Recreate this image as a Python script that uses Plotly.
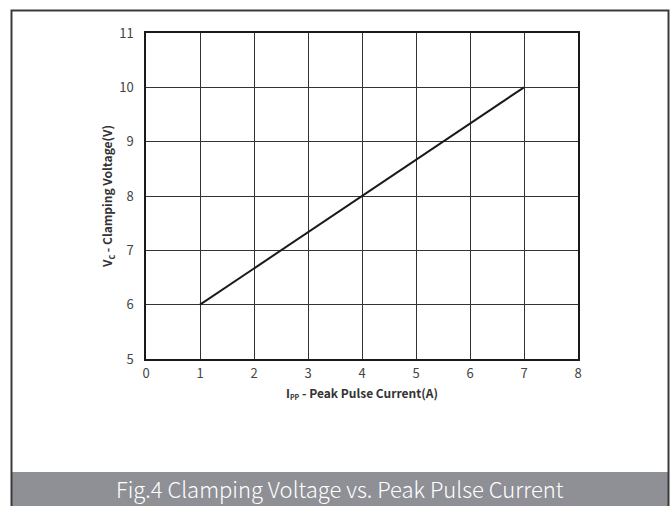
import plotly.graph_objects as go

# Data
ipp_current = [1, 7]
vc_voltage = [6, 10]
x_ticks = [0, 1, 2, 3, 4, 5, 6, 7, 8]
y_ticks = [5, 6, 7, 8, 9, 10, 11]
caption = "Fig.4 Clamping Voltage vs. Peak Pulse Current"

W, H = 672, 506
L, R, T, B = 146, 94, 33, 147
pw, ph = W - L - R, H - T - B

def px(x):
    return (x - L) / pw

def py(y):
    return (H - B - y) / ph

FONT = "Noto Sans CJK SC, Noto Sans, sans-serif"

fig = go.Figure()
fig.add_trace(go.Scatter(x=ipp_current, y=vc_voltage, mode="lines",
                         line=dict(color="#1a1a1a", width=2), showlegend=False,
                         hoverinfo="skip"))

axis_common = dict(showgrid=True, gridcolor="#333333", gridwidth=1,
                   showline=True, linecolor="#1a1a1a", linewidth=1.5, mirror=True,
                   zeroline=False, ticks="", tickfont=dict(family=FONT, size=13, color="#444444"))

fig.update_xaxes(range=[0, 8], tickvals=x_ticks, ticklabelstandoff=2,
                 title=dict(text="I<sub><span style='font-size:7px'>PP</span></sub> - Peak Pulse Current(A)",
                            font=dict(family=FONT, size=12, color="#333333", weight="bold"),
                            standoff=8),
                 **axis_common)
fig.update_yaxes(range=[5, 11], tickvals=y_ticks, ticklabelstandoff=8,
                 title=dict(text="V<sub><span style='font-size:9px'>c</span></sub> - Clamping Voltage(V)",
                            font=dict(family=FONT, size=12, color="#333333", weight="bold"),
                            standoff=4),
                 **axis_common)

shapes = [
    dict(type="rect", xref="paper", yref="paper",
         x0=px(12), x1=px(668), y0=py(472), y1=py(507),
         fillcolor="#8e9096", line=dict(width=0), layer="below"),
    dict(type="rect", xref="paper", yref="paper",
         x0=px(11.5), x1=px(668.5), y0=py(10.5), y1=py(508),
         line=dict(color="#3a3a3a", width=2), fillcolor="rgba(0,0,0,0)"),
]

fig.update_layout(
    width=W, height=H,
    margin=dict(l=L, r=R, t=T, b=B),
    paper_bgcolor="white", plot_bgcolor="white",
    shapes=shapes,
    annotations=[dict(text=caption, xref="paper", yref="paper",
                      x=px(340), y=py(488), showarrow=False,
                      xanchor="center", yanchor="middle",
                      font=dict(family=FONT, size=22, color="white", weight=300))],
)

fig.write_html("out.html", config={"displayModeBar": False},
               post_script="document.body.style.margin='0px';document.body.style.overflow='hidden';")
